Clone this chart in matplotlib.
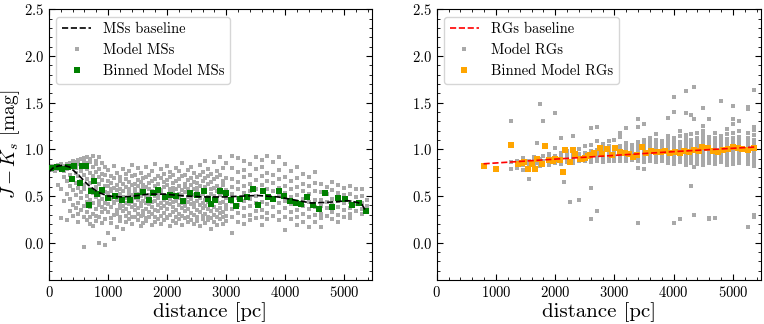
import matplotlib
matplotlib.use("Agg")
import matplotlib.pyplot as plt
from matplotlib.ticker import MultipleLocator

plt.rcParams['font.family'] = 'serif'
plt.rcParams['font.serif'] = ['cmr10']
plt.rcParams['mathtext.fontset'] = 'cm'
plt.rcParams['axes.unicode_minus'] = False
plt.rcParams['axes.formatter.use_mathtext'] = True

# --- main sequence: model stars, columns of colours at each distance
ms_dist = [50, 100, 150, 200, 250, 300, 350, 400, 450, 500, 550, 600, 650, 700, 750, 800, 850, 900, 950,
           1000, 1050, 1100, 1150, 1200, 1250, 1300, 1350, 1400, 1450, 1500, 1550, 1600, 1650, 1700, 1750,
           1800, 1850, 1900, 1950, 2000, 2050, 2100, 2150, 2200, 2250, 2300, 2350, 2400, 2450, 2500, 2550,
           2600, 2650, 2700, 2750, 2800, 2850, 2900, 2950, 3000, 3100, 3200, 3300, 3400, 3500, 3600, 3700,
           3800, 3900, 4000, 4100, 4200, 4300, 4400, 4500, 4600, 4700, 4800, 4900, 5000, 5100, 5200, 5300, 5380]
ms_col = [
    [0.80, 0.78, 0.82], [0.81, 0.77], [0.83, 0.79, 0.62], [0.80, 0.84, 0.58, 0.26],
    [0.82, 0.77, 0.45, 0.70], [0.84, 0.79, 0.24, 0.66, 0.52], [0.85, 0.81, 0.73, 0.61, 0.34, 0.47],
    [0.87, 0.83, 0.69, 0.56, 0.29, 0.40], [0.86, 0.80, 0.75, 0.64, 0.51, 0.37],
    [0.89, 0.84, 0.71, 0.59, 0.43, 0.31, 0.22], [0.90, 0.82, 0.77, 0.66, 0.54, 0.48, 0.35],
    [0.91, 0.87, 0.73, 0.62, 0.57, 0.39, 0.28, -0.05], [0.92, 0.85, 0.79, 0.68, 0.50, 0.44, 0.33, 0.24],
    [0.90, 0.86, 0.75, 0.64, 0.58, 0.46, 0.38, 0.20, 0.27], [0.93, 0.81, 0.71, 0.66, 0.53, 0.42, 0.31, 0.18],
    [0.88, 0.84, 0.76, 0.60, 0.55, 0.49, 0.36, 0.23, 0.29], [0.92, 0.79, 0.70, 0.63, 0.51, 0.45, 0.40, 0.27, 0.0],
    [0.85, 0.74, 0.67, 0.58, 0.47, 0.38, 0.33, 0.21], [0.81, 0.72, 0.61, 0.54, 0.43, 0.36, 0.25, -0.02],
    [0.78, 0.66, 0.61, 0.53, 0.49, 0.41, 0.33, 0.10], [0.71, 0.64, 0.57, 0.55, 0.47, 0.38, 0.26, 0.21],
    [0.82, 0.69, 0.59, 0.51, 0.44, 0.42, 0.30, 0.04], [0.75, 0.62, 0.56, 0.50, 0.46, 0.35, 0.31, 0.17],
    [0.70, 0.66, 0.58, 0.52, 0.40, 0.37, 0.27, 0.23], [0.79, 0.63, 0.55, 0.49, 0.45, 0.39, 0.34, 0.15],
    [0.74, 0.68, 0.60, 0.48, 0.43, 0.36, 0.29, 0.22], [0.77, 0.65, 0.57, 0.53, 0.47, 0.41, 0.32, 0.25],
    [0.83, 0.71, 0.62, 0.51, 0.44, 0.38, 0.28, 0.20], [0.72, 0.63, 0.58, 0.55, 0.48, 0.40, 0.35, 0.27],
    [0.80, 0.67, 0.61, 0.52, 0.46, 0.37, 0.31, 0.24], [0.75, 0.65, 0.56, 0.50, 0.43, 0.39, 0.29, 0.18],
    [0.69, 0.62, 0.59, 0.54, 0.45, 0.34, 0.30, 0.21], [0.81, 0.70, 0.60, 0.49, 0.42, 0.36, 0.26, 0.23],
    [0.73, 0.64, 0.57, 0.51, 0.47, 0.41, 0.33, 0.28], [0.77, 0.66, 0.55, 0.53, 0.44, 0.38, 0.31, 0.19],
    [0.84, 0.68, 0.61, 0.50, 0.45, 0.35, 0.27, 0.22], [0.71, 0.63, 0.58, 0.52, 0.48, 0.40, 0.34, 0.25],
    [0.79, 0.69, 0.56, 0.54, 0.43, 0.37, 0.29, 0.20], [0.74, 0.65, 0.60, 0.51, 0.46, 0.39, 0.32, 0.24],
    [0.82, 0.67, 0.62, 0.49, 0.42, 0.36, 0.28, 0.26], [0.76, 0.70, 0.57, 0.53, 0.47, 0.41, 0.30, 0.18],
    [0.72, 0.64, 0.59, 0.55, 0.44, 0.38, 0.33, 0.23], [0.80, 0.66, 0.58, 0.50, 0.45, 0.35, 0.27, 0.21],
    [0.77, 0.68, 0.61, 0.52, 0.48, 0.40, 0.31, 0.25], [0.85, 0.71, 0.56, 0.51, 0.43, 0.37, 0.29, 0.19],
    [0.73, 0.63, 0.60, 0.54, 0.46, 0.39, 0.34, 0.26], [0.78, 0.67, 0.57, 0.49, 0.44, 0.36, 0.28, 0.22],
    [0.81, 0.69, 0.62, 0.53, 0.47, 0.41, 0.32, 0.24], [0.75, 0.65, 0.58, 0.51, 0.42, 0.38, 0.30, 0.20],
    [0.70, 0.64, 0.59, 0.55, 0.45, 0.35, 0.27, 0.23], [0.83, 0.72, 0.61, 0.50, 0.48, 0.40, 0.33, 0.18],
    [0.76, 0.66, 0.56, 0.52, 0.43, 0.37, 0.29, 0.25], [0.88, 0.69, 0.60, 0.54, 0.46, 0.39, 0.31, 0.21],
    [0.79, 0.71, 0.63, 0.49, 0.44, 0.36, 0.28, 0.24], [0.74, 0.65, 0.57, 0.52, 0.41, 0.34, 0.26, 0.15],
    [0.86, 0.68, 0.59, 0.50, 0.45, 0.38, 0.30, 0.22], [0.77, 0.70, 0.61, 0.55, 0.47, 0.35, 0.27, 0.19],
    [0.92, 0.73, 0.58, 0.51, 0.42, 0.37, 0.32, 0.25], [0.80, 0.66, 0.62, 0.53, 0.44, 0.33, 0.28, 0.20],
    [0.85, 0.69, 0.56, 0.48, 0.40, 0.36, 0.29, 0.23],
    [0.93, 0.80, 0.68, 0.60, 0.52, 0.44, 0.36, 0.27, 0.10], [0.91, 0.76, 0.65, 0.57, 0.48, 0.40, 0.32, 0.22],
    [0.88, 0.78, 0.70, 0.61, 0.53, 0.45, 0.37, 0.29, 0.20], [0.84, 0.72, 0.63, 0.55, 0.47, 0.39, 0.30, 0.24],
    [0.92, 0.79, 0.67, 0.58, 0.50, 0.42, 0.34, 0.26], [0.89, 0.81, 0.71, 0.62, 0.54, 0.44, 0.35, 0.27, 0.19],
    [0.93, 0.75, 0.66, 0.57, 0.49, 0.41, 0.32, 0.25], [0.86, 0.73, 0.64, 0.55, 0.46, 0.38, 0.29],
    [0.92, 0.78, 0.68, 0.59, 0.50, 0.42, 0.33, 0.24], [0.84, 0.70, 0.61, 0.53, 0.45, 0.37, 0.28, 0.14],
    [0.77, 0.66, 0.57, 0.49, 0.41, 0.33, 0.25], [0.81, 0.69, 0.60, 0.51, 0.43, 0.35, 0.27, 0.19],
    [0.74, 0.63, 0.55, 0.47, 0.39, 0.31, 0.22], [0.70, 0.61, 0.52, 0.44, 0.36, 0.28, 0.17],
    [0.76, 0.64, 0.55, 0.46, 0.38, 0.30, 0.22], [0.63, 0.54, 0.46, 0.39, 0.31, 0.17, 0.26],
    [0.60, 0.52, 0.44, 0.37, 0.29], [0.65, 0.56, 0.47, 0.40, 0.33, 0.25],
    [0.62, 0.53, 0.45, 0.38, 0.30, 0.22], [0.59, 0.51, 0.43, 0.35, 0.28],
    [0.61, 0.52, 0.44, 0.37, 0.31, 0.26], [0.57, 0.49, 0.41, 0.34],
    [0.58, 0.50, 0.43, 0.36, 0.31], [0.46, 0.39, 0.34],
]

ms_bin_dist = [30, 130, 215, 330, 385, 430, 525, 565, 620, 680, 720, 770, 820, 900, 995, 1110, 1240, 1370,
               1490, 1600, 1700, 1755, 1850, 1965, 2055, 2145, 2275, 2385, 2515, 2630, 2700, 2750, 2810,
               2895, 2995, 3080, 3160, 3235, 3345, 3460, 3545, 3630, 3715, 3800, 3895, 3980, 4080, 4175,
               4260, 4365, 4465, 4570, 4675, 4785, 4900, 5010, 5125, 5250, 5365]
ms_bin_col = [0.80, 0.81, 0.79, 0.81, 0.68, 0.82, 0.64, 0.82, 0.82, 0.40, 0.55, 0.66, 0.52, 0.56, 0.475,
              0.50, 0.46, 0.46, 0.50, 0.54, 0.46, 0.53, 0.56, 0.49, 0.51, 0.50, 0.45, 0.535, 0.51, 0.55,
              0.47, 0.41, 0.46, 0.55, 0.53, 0.46, 0.39, 0.465, 0.49, 0.58, 0.40, 0.55, 0.49, 0.47, 0.55,
              0.50, 0.445, 0.42, 0.415, 0.49, 0.40, 0.36, 0.53, 0.38, 0.475, 0.47, 0.40, 0.42, 0.34]

ms_base_dist = [0, 70, 150, 240, 350, 500, 660, 830, 1000, 1230, 1450, 1680, 1960, 2300, 2640, 2980,
                3310, 3540, 3880, 4220, 4440, 4670, 4890, 5060, 5230, 5300, 5365]
ms_base_col = [0.76, 0.80, 0.82, 0.83, 0.81, 0.725, 0.62, 0.54, 0.50, 0.49, 0.50, 0.52, 0.52, 0.50,
               0.49, 0.49, 0.50, 0.505, 0.49, 0.45, 0.425, 0.43, 0.44, 0.45, 0.43, 0.41, 0.34]

# --- red giants
rg_dist = [1260, 1350, 1450, 1550, 1650, 1700, 1750, 1800, 1900, 2000, 2100, 2150, 2200, 2250, 2300,
           2400, 2500, 2600, 2700, 2800, 2900, 3000, 3100, 3200, 3300, 3400, 3500, 3600, 3700, 3800,
           3900, 4000, 4100, 4200, 4300, 4350, 4400, 4500, 4600, 4700, 4800, 4900, 5000, 5100, 5250, 5350]
rg_col = [
    [1.30, 0.79, 0.86], [0.80, 0.84, 0.88], [0.78, 0.83, 0.86, 0.91], [0.68, 0.80, 0.84, 0.88],
    [0.80, 0.84, 0.88, 0.92], [1.07, 0.85], [1.49, 0.82, 0.86, 0.90], [1.30, 0.84, 0.88, 0.93],
    [0.83, 0.87, 0.91, 0.95], [1.39, 0.85, 0.89, 0.93, 1.01], [1.12, 0.84, 0.88, 0.92, 0.96], [0.65],
    [0.86, 0.90, 0.94, 0.98], [0.44], [1.14, 0.85, 0.89, 0.93, 0.97], [0.46, 0.87, 0.91, 0.95, 1.00],
    [0.88, 0.92, 0.96, 1.04], [1.23, 0.59, 0.25, 0.86, 0.90, 0.94, 0.98, 1.05],
    [1.24, 1.09, 0.34, 0.87, 0.91, 0.95, 0.99], [0.86, 0.90, 0.94, 0.98, 1.02, 1.06],
    [0.88, 0.92, 0.96, 1.00, 1.04, 1.09], [0.87, 0.91, 0.95, 0.99, 1.03, 1.10],
    [1.18, 0.88, 0.92, 0.96, 1.00, 1.04, 1.13], [1.23, 0.87, 0.91, 0.95, 0.99, 1.03, 1.07],
    [0.89, 0.93, 0.97, 1.01, 1.05], [1.32, 0.21, 0.80, 0.88, 0.92, 0.96, 1.00, 1.04, 1.08, 1.24],
    [1.27, 0.79, 0.86, 0.89, 0.92, 0.95, 0.98, 1.01, 1.04, 1.07, 1.10],
    [0.87, 0.90, 0.93, 0.96, 0.99, 1.02, 1.05, 1.08, 1.12],
    [1.16, 0.86, 0.89, 0.92, 0.95, 0.98, 1.01, 1.04, 1.07, 1.10],
    [0.87, 0.90, 0.93, 0.96, 0.99, 1.02, 1.05, 1.09],
    [1.34, 0.85, 0.88, 0.91, 0.94, 0.97, 1.00, 1.03, 1.06, 1.10, 1.14],
    [1.56, 1.40, 0.21, 0.84, 0.87, 0.90, 0.93, 0.96, 0.99, 1.02, 1.05, 1.08, 1.12],
    [0.25, 0.86, 0.89, 0.92, 0.95, 0.98, 1.01, 1.04, 1.08, 1.14, 1.20],
    [1.63, 1.39, 0.83, 0.86, 0.89, 0.92, 0.95, 0.98, 1.01, 1.04, 1.07, 1.11, 1.15],
    [0.61, 0.85, 0.88, 0.91, 0.94, 0.97, 1.00, 1.03, 1.06, 1.10, 1.16, 1.37],
    [1.67, 1.33, 0.30, 0.81],
    [0.84, 0.87, 0.90, 0.93, 0.96, 0.99, 1.02, 1.05, 1.08, 1.12, 1.18],
    [1.44, 1.25, 0.83, 0.86, 0.89, 0.92, 0.95, 0.98, 1.01, 1.04, 1.07, 1.11, 1.15, 1.20],
    [1.33, 0.26, 0.25, 0.85, 0.88, 0.91, 0.94, 0.97, 1.00, 1.03, 1.06, 1.09, 1.13],
    [0.26, 0.84, 0.87, 0.90, 0.93, 0.96, 0.99, 1.02, 1.05, 1.08, 1.12, 1.17],
    [1.52, 0.86, 0.89, 0.92, 0.95, 0.98, 1.01, 1.04, 1.07, 1.10, 1.14],
    [0.83, 0.86, 0.89, 0.92, 0.95, 0.98, 1.01, 1.04, 1.07, 1.11, 1.16, 1.22],
    [1.46, 1.33, 0.84, 0.87, 0.90, 0.93, 0.96, 0.99, 1.02, 1.05, 1.08, 1.12, 1.18, 1.27],
    [1.30, 0.85, 0.88, 0.91, 0.94, 0.97, 1.00, 1.03, 1.06, 1.09, 1.13, 1.20],
    [1.45, 1.43, 0.17, 0.84, 0.87, 0.90, 0.93, 0.96, 0.99, 1.02, 1.05, 1.08, 1.12, 1.18],
    [1.64, 1.24, 0.30, 0.28, 0.82, 0.85, 0.88, 0.91, 0.94, 0.97, 1.00, 1.03, 1.06, 1.10, 1.15, 1.21],
]

rg_bin_dist = [790, 1000, 1260, 1370, 1440, 1480, 1535, 1600, 1655, 1695, 1775, 1820, 1890, 1960, 2000,
               2080, 2130, 2160, 2245, 2295, 2340, 2410, 2460, 2510, 2560, 2595, 2660, 2750, 2790, 2875,
               2960, 3015, 3100, 3180, 3240, 3310, 3380, 3470, 3540, 3620, 3700, 3780, 3860, 3940, 4020,
               4100, 4180, 4260, 4340, 4420, 4480, 4580, 4660, 4750, 4830, 4910, 5000, 5080, 5160, 5250, 5350]
rg_bin_col = [0.82, 0.79, 1.05, 0.84, 0.85, 0.86, 0.79, 0.84, 0.79, 0.90, 0.84, 1.04, 0.89, 0.88, 0.90,
              0.89, 0.76, 0.99, 0.86, 0.99, 0.95, 0.90, 0.90, 0.91, 0.93, 0.94, 0.96, 1.01, 0.95, 1.00,
              0.94, 1.01, 0.975, 0.96, 0.95, 0.92, 0.94, 1.03, 0.96, 0.98, 0.97, 0.97, 0.98, 0.96, 0.97,
              0.96, 0.98, 0.97, 0.99, 0.98, 1.03, 1.01, 0.98, 0.97, 0.99, 1.00, 1.02, 1.01, 1.00, 0.99, 1.01]

rg_base_dist = [790, 2000, 3000, 4000, 5380]
rg_base_col = [0.845, 0.895, 0.935, 0.975, 1.025]


def flatten(dists, cols):
    xs, ys = [], []
    for d, c in zip(dists, cols):
        xs += [d] * len(c)
        ys += c
    return xs, ys


ms_x, ms_y = flatten(ms_dist, ms_col)
rg_x, rg_y = flatten(rg_dist, rg_col)

fig = plt.figure(figsize=(7.64, 3.24), dpi=100)
ax1 = fig.add_axes([0.0641, 0.1358, 0.4228, 0.8355])
ax2 = fig.add_axes([0.5717, 0.1358, 0.4240, 0.8355])

ax1.plot(ms_base_dist, ms_base_col, ls='--', color='k', lw=1.2, label='MSs baseline', zorder=4)
ax1.plot(ms_x, ms_y, ls='none', marker='s', ms=2.3, color='darkgray', mew=0, label='Model MSs', zorder=2)
ax1.plot(ms_bin_dist, ms_bin_col, ls='none', marker='s', ms=4.3, color='green', mew=0,
         label='Binned Model MSs', zorder=3)

ax2.plot(rg_base_dist, rg_base_col, ls='--', color='red', lw=1.2, label='RGs baseline', zorder=4)
ax2.plot(rg_x, rg_y, ls='none', marker='s', ms=2.3, color='darkgray', mew=0, label='Model RGs', zorder=2)
ax2.plot(rg_bin_dist, rg_bin_col, ls='none', marker='s', ms=4.3, color='orange', mew=0,
         label='Binned Model RGs', zorder=3)

for ax in (ax1, ax2):
    ax.set_xlim(0, 5470)
    ax.set_ylim(-0.4, 2.5)
    ax.xaxis.set_major_locator(MultipleLocator(1000))
    ax.xaxis.set_minor_locator(MultipleLocator(200))
    ax.yaxis.set_major_locator(MultipleLocator(0.5))
    ax.yaxis.set_minor_locator(MultipleLocator(0.1))
    ax.tick_params(which='both', direction='in', top=True, right=True, labelsize=10.5)
    ax.tick_params(which='major', length=4)
    ax.tick_params(which='minor', length=2)
    ax.set_xlabel('distance [pc]', fontsize=15, labelpad=2)
    ax.legend(loc='upper left', fontsize=10.5)

ax1.set_ylabel(r'$J - K_s$ [mag]', fontsize=14)
ax1.yaxis.set_label_coords(-0.082, 0.5)

fig.savefig('out.png', dpi=100)
